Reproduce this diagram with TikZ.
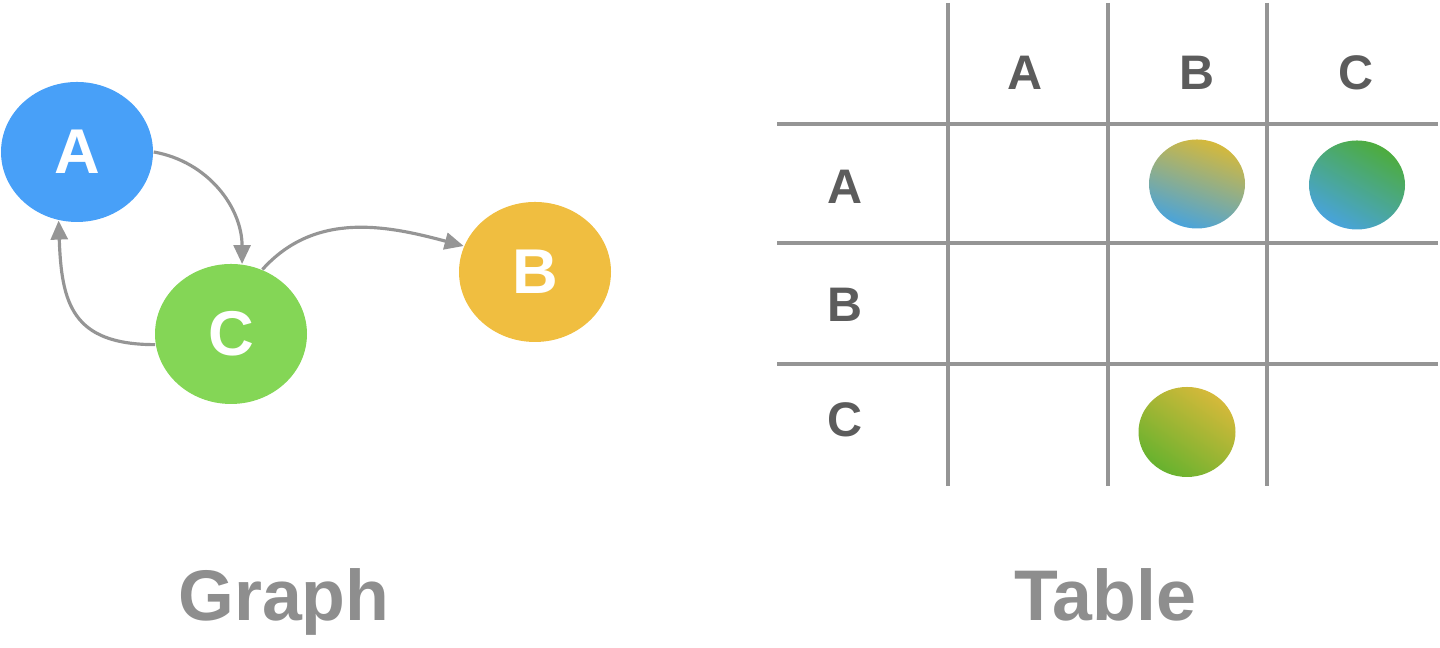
\documentclass[tikz,border=0pt]{standalone}
\usepackage{fontspec}
\setmainfont{Liberation Sans}
\usetikzlibrary{shapes.geometric,arrows.meta}
\definecolor{vblue}{HTML}{48A0F8}
\definecolor{vgreen}{HTML}{84D656}
\definecolor{vyellow}{HTML}{F0BE40}
\definecolor{edgegray}{HTML}{959595}
\definecolor{labgray}{HTML}{5C5C5C}
\definecolor{headgray}{HTML}{8E8E8E}
\definecolor{gyellow}{HTML}{D6B93A}
\definecolor{gblue}{HTML}{48A3DC}
\definecolor{ggreen}{HTML}{4DAC3C}
\definecolor{glime}{HTML}{66B22E}
\begin{document}
\begin{tikzpicture}[
  vertex/.style={ellipse, minimum width=1.52cm, minimum height=1.4cm, inner sep=0pt, text=white, font=\bfseries\fontsize{18}{18}\selectfont},
  link/.style={draw=edgegray, line width=0.9pt, -{Triangle[length=5.4pt,width=4.8pt]}},
  grid/.style={draw=edgegray, line width=0.9pt},
  cellmark/.style={ellipse, minimum width=0.96cm, minimum height=0.89cm, inner sep=0pt},
  tablab/.style={text=labgray, font=\bfseries\fontsize{13.8}{14}\selectfont},
  heading/.style={text=headgray, anchor=base, font=\bfseries\fontsize{20.4}{21}\selectfont}]
\useasboundingbox (0,0) rectangle (14.4,6.48);
% graph
\node[vertex, fill=vblue] (A) at (0.77,4.96) {A};
\node[vertex, fill=vgreen] (C) at (2.31,3.14) {C};
\node[vertex, fill=vyellow] (B) at (5.35,3.76) {B};
\draw[link] (A.east) to[out=-10, in=90] (C.81);
\draw[link] (C.64) to[out=48, in=165] (B.160);
\draw[link] (C.188) to[out=180, in=-88, looseness=1.35] (A.255);
% table
\foreach \x in {9.48,11.08,12.67}
  \draw[grid] (\x,6.45) -- (\x,1.62);
\foreach \y in {5.24,4.05,2.84}
  \draw[grid] (7.77,\y) -- (14.38,\y);
\node[tablab] (hA) at (10.25,5.75) {A};
\node[tablab] (hB) at (11.97,5.75) {B};
\node[tablab] (hC) at (13.56,5.75) {C};
\node[tablab] (rA) at (8.45,4.61) {A};
\node[tablab] (rB) at (8.45,3.43) {B};
\node[tablab] (rC) at (8.45,2.28) {C};
\node[cellmark, top color=gyellow, bottom color=gblue, shading angle=-20] (AB) at (11.97,4.64) {};
\node[cellmark, top color=ggreen, bottom color=gblue, shading angle=-30] (AC) at (13.57,4.63) {};
\node[cellmark, top color=gyellow, bottom color=glime, shading angle=-35, minimum width=0.97cm, minimum height=0.9cm] (CB) at (11.87,2.16) {};
% captions
\node[heading] (graphcap) at (2.84,0.27) {Graph};
\node[heading] (tablecap) at (11.05,0.27) {Table};
\end{tikzpicture}
\end{document}
